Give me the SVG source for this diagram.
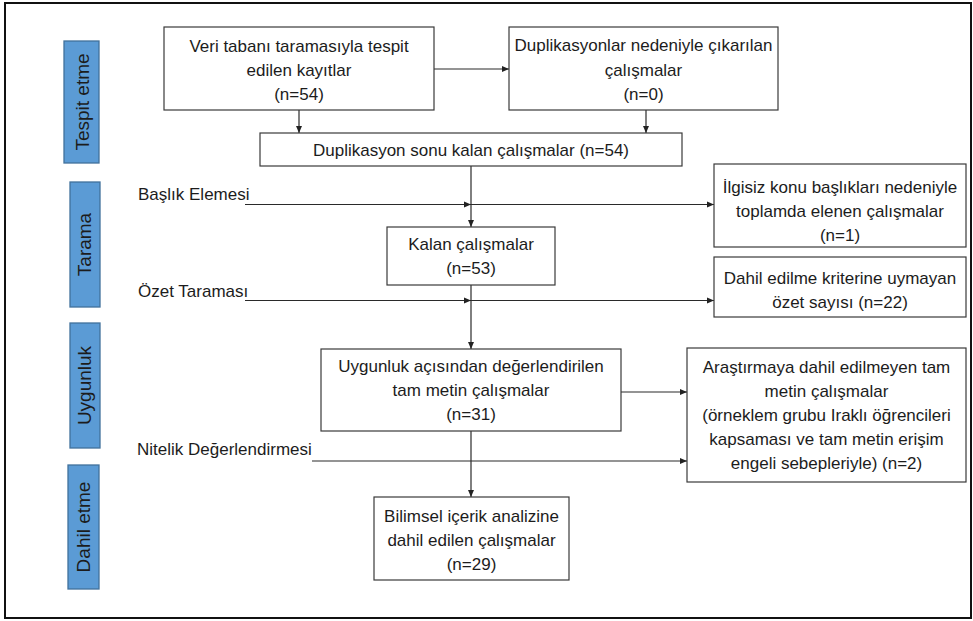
<svg xmlns="http://www.w3.org/2000/svg" width="973" height="621" viewBox="0 0 973 621">
  <defs>
    <marker id="ah" markerUnits="userSpaceOnUse" markerWidth="8" markerHeight="8" refX="7" refY="4" orient="auto">
      <path d="M0,1 L7,4 L0,7 Z" fill="#222"/>
    </marker>
    <style>
      .box { fill: #fff; stroke: #3a3a3a; stroke-width: 1.2; }
      .bar { fill: #5B9BD5; stroke: #41719C; stroke-width: 1.3; }
      .t { font-family: "Liberation Sans", Arial, sans-serif; font-size: 17px; fill: #1c1c1c; text-anchor: middle; }
      .tl { font-family: "Liberation Sans", Arial, sans-serif; font-size: 17px; fill: #1c1c1c; }
      .bt { font-family: "Liberation Sans", Arial, sans-serif; font-size: 19px; fill: #1c1c1c; text-anchor: middle; }
      .c { stroke: #2a2a2a; stroke-width: 1.2; fill: none; }
    </style>
  </defs>
  <rect x="0" y="0" width="973" height="621" fill="#fff"/>
  <rect x="5" y="3" width="966" height="615" fill="none" stroke="#111" stroke-width="2"/>

  <g id="stage-tespit">
    <rect class="bar" x="64" y="41" width="35" height="122"/>
    <text class="bt" transform="translate(89,102) rotate(-90)">Tespit etme</text>
  </g>
  <g id="stage-tarama">
    <rect class="bar" x="70" y="182" width="30" height="125"/>
    <text class="bt" transform="translate(91,244.5) rotate(-90)">Tarama</text>
  </g>
  <g id="stage-uygunluk">
    <rect class="bar" x="70" y="323" width="30" height="125"/>
    <text class="bt" transform="translate(91,385.5) rotate(-90)">Uygunluk</text>
  </g>
  <g id="stage-dahil">
    <rect class="bar" x="68" y="465" width="31" height="124"/>
    <text class="bt" transform="translate(90,527) rotate(-90)">Dahil etme</text>
  </g>

  <g id="label-baslik"><text class="tl" x="138" y="200">Başlık Elemesi</text></g>
  <g id="label-ozet"><text class="tl" x="138" y="297">Özet Taraması</text></g>
  <g id="label-nitelik"><text class="tl" x="137" y="455">Nitelik Değerlendirmesi</text></g>

  <g id="connectors">
    <line class="c" x1="434" y1="69" x2="509" y2="69" marker-end="url(#ah)"/>
    <line class="c" x1="299" y1="110" x2="299" y2="133" marker-end="url(#ah)"/>
    <line class="c" x1="646" y1="110" x2="646" y2="133" marker-end="url(#ah)"/>
    <line class="c" x1="471" y1="166" x2="471" y2="227" marker-end="url(#ah)"/>
    <line class="c" x1="245" y1="204.5" x2="471" y2="204.5" marker-end="url(#ah)"/>
    <line class="c" x1="471" y1="204.5" x2="714" y2="204.5" marker-end="url(#ah)"/>
    <line class="c" x1="471" y1="285" x2="471" y2="349" marker-end="url(#ah)"/>
    <line class="c" x1="245" y1="300.5" x2="471" y2="300.5" marker-end="url(#ah)"/>
    <line class="c" x1="471" y1="300.5" x2="714" y2="300.5" marker-end="url(#ah)"/>
    <line class="c" x1="621" y1="392" x2="687" y2="392" marker-end="url(#ah)"/>
    <line class="c" x1="312" y1="461" x2="687" y2="461" marker-end="url(#ah)"/>
    <line class="c" x1="471" y1="431" x2="471" y2="497" marker-end="url(#ah)"/>
  </g>

  <g id="n-veri">
    <rect class="box" x="164" y="27" width="270" height="83"/>
    <text class="t" x="299" y="52">Veri tabanı taramasıyla tespit</text>
    <text class="t" x="299" y="76">edilen kayıtlar</text>
    <text class="t" x="299" y="100">(n=54)</text>
  </g>
  <g id="n-duplikasyon-cikarilan">
    <rect class="box" x="509" y="27" width="269" height="83"/>
    <text class="t" x="643.5" y="51">Duplikasyonlar nedeniyle çıkarılan</text>
    <text class="t" x="643.5" y="76">çalışmalar</text>
    <text class="t" x="643.5" y="100">(n=0)</text>
  </g>
  <g id="n-duplikasyon-sonu">
    <rect class="box" x="260" y="133" width="422" height="33"/>
    <text class="t" x="471" y="156">Duplikasyon sonu kalan çalışmalar (n=54)</text>
  </g>
  <g id="n-ilgisiz">
    <rect class="box" x="714" y="164" width="252" height="83"/>
    <text class="t" x="840" y="193">İlgisiz konu başlıkları nedeniyle</text>
    <text class="t" x="840" y="217">toplamda elenen çalışmalar</text>
    <text class="t" x="840" y="241">(n=1)</text>
  </g>
  <g id="n-kalan">
    <rect class="box" x="387" y="227" width="168" height="58"/>
    <text class="t" x="471" y="250">Kalan çalışmalar</text>
    <text class="t" x="471" y="274">(n=53)</text>
  </g>
  <g id="n-dahil-edilme">
    <rect class="box" x="714" y="257" width="252" height="60"/>
    <text class="t" x="840" y="284">Dahil edilme kriterine uymayan</text>
    <text class="t" x="840" y="308">özet sayısı (n=22)</text>
  </g>
  <g id="n-uygunluk">
    <rect class="box" x="321" y="349" width="300" height="82"/>
    <text class="t" x="471" y="372">Uygunluk açısından değerlendirilen</text>
    <text class="t" x="471" y="396">tam metin çalışmalar</text>
    <text class="t" x="471" y="420">(n=31)</text>
  </g>
  <g id="n-arastirmaya">
    <rect class="box" x="687" y="348" width="279" height="134"/>
    <text class="t" x="826.5" y="373">Araştırmaya dahil edilmeyen tam</text>
    <text class="t" x="826.5" y="397">metin çalışmalar</text>
    <text class="t" x="826.5" y="421">(örneklem grubu Iraklı öğrencileri</text>
    <text class="t" x="826.5" y="445">kapsaması ve tam metin erişim</text>
    <text class="t" x="826.5" y="469">engeli sebepleriyle) (n=2)</text>
  </g>
  <g id="n-bilimsel">
    <rect class="box" x="374" y="497" width="195" height="83"/>
    <text class="t" x="471.5" y="522">Bilimsel içerik analizine</text>
    <text class="t" x="471.5" y="546">dahil edilen çalışmalar</text>
    <text class="t" x="471.5" y="570">(n=29)</text>
  </g>
</svg>
